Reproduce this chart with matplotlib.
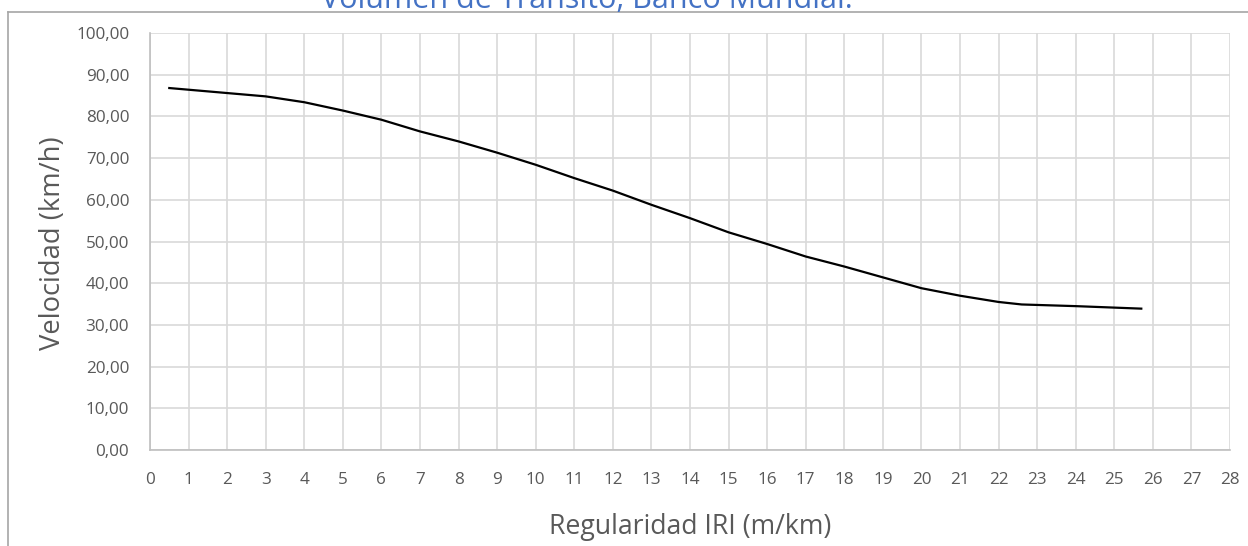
import matplotlib
matplotlib.use("Agg")
import matplotlib.pyplot as plt
from matplotlib.lines import Line2D
from matplotlib.ticker import FuncFormatter

plt.rcParams['font.family'] = ['Open Sans', 'DejaVu Sans']

# Regularidad IRI (m/km) vs velocidad (km/h)
iri = [0.5, 1, 2, 3, 4, 5, 6, 7, 8, 9, 10, 11, 12, 13, 14, 15, 16, 17,
       18, 19, 20, 21, 22, 22.6, 24, 25.7]
velocidad = [86.8, 86.4, 85.6, 84.8, 83.4, 81.4, 79.2, 76.4, 74.0, 71.3,
             68.4, 65.2, 62.2, 58.8, 55.6, 52.2, 49.4, 46.4, 44.0, 41.4,
             38.8, 37.0, 35.5, 34.9, 34.5, 33.9]
x_ticks = list(range(0, 29))
y_ticks = list(range(0, 101, 10))

gray = '#595959'
W, H = 1248, 546

fig = plt.figure(figsize=(12.48, 5.46), dpi=100)
ax = fig.add_axes([150 / W, 1 - 450 / H, 1080 / W, 417 / H])

ax.plot(iri, velocidad, color='black', linewidth=1.6)

ax.set_xlim(0, 28)
ax.set_ylim(0, 100)
ax.set_xticks(x_ticks)
ax.set_yticks(y_ticks)
ax.yaxis.set_major_formatter(FuncFormatter(lambda v, p: f"{v:.2f}".replace('.', ',')))
ax.grid(True, color='#D9D9D9', linewidth=1.2)
ax.set_axisbelow(True)
ax.tick_params(length=0, labelsize=12.3, colors=gray)
ax.tick_params(axis='x', pad=16)
ax.tick_params(axis='y', pad=15)
for s in ['top', 'right']:
    ax.spines[s].set_visible(False)
for s in ['left', 'bottom']:
    ax.spines[s].set_color('#BFBFBF')
    ax.spines[s].set_linewidth(1.2)

# títulos de ejes
fig.text(690 / W, 1 - 534 / H, 'Regularidad IRI (m/km)', ha='center', va='baseline',
         fontsize=19.2, color=gray)
fig.text(60 / W, 1 - 243 / H, 'Velocidad (km/h)', ha='center', va='baseline',
         rotation=90, rotation_mode='anchor', fontsize=19.7, color=gray)

# título recortado arriba
fig.text(587 / W, 1 - 8 / H, 'Volumen de Tránsito, Banco Mundial.',
         ha='center', va='baseline', fontsize=22, color='#4472C4')

# borde del cuadro
fig.add_artist(Line2D([8 / W, 8 / W], [0, 1 - 12 / H], color='#A6A6A6', linewidth=1.2))
fig.add_artist(Line2D([8 / W, 1], [1 - 12 / H, 1 - 12 / H], color='#A6A6A6', linewidth=1.2))

fig.savefig('out.png', dpi=100)
